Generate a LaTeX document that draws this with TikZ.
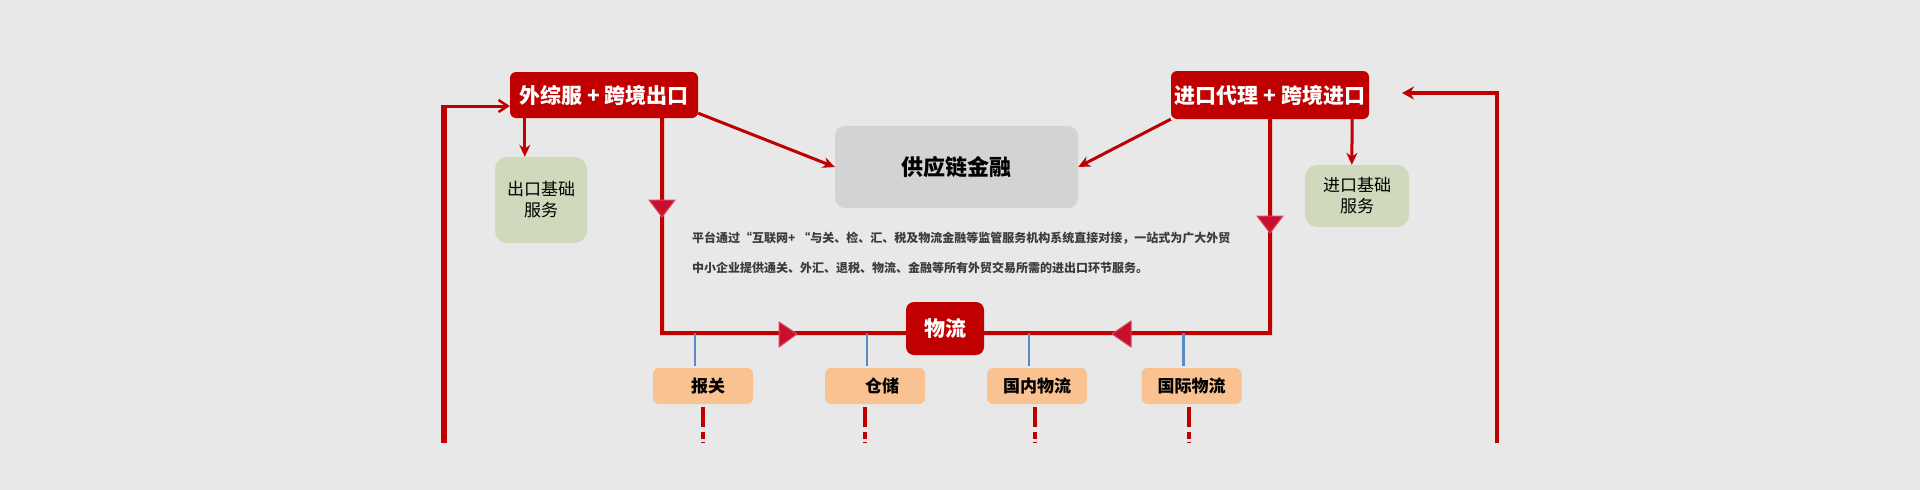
\documentclass[tikz,border=0pt]{standalone}
\usepackage{fontspec}
\setmainfont{Noto Sans CJK SC}
\usetikzlibrary{arrows.meta,calc}
\definecolor{bgc}{HTML}{E8E8E8}
\definecolor{myred}{HTML}{C00000}
\definecolor{trired}{HTML}{C8102E}
\definecolor{triedge}{HTML}{D9475C}
\definecolor{basegreen}{HTML}{D1D9BC}
\definecolor{peach}{HTML}{F9C290}
\definecolor{scfgrey}{HTML}{D3D3D3}
\definecolor{tickblue}{HTML}{5A8AC6}
\definecolor{bodytext}{HTML}{3C3C3C}
\pgfdeclarelayer{bglayer}
\pgfdeclarelayer{lines}
\pgfsetlayers{bglayer,lines,main}
\tikzset{
  redbox/.style={fill=myred, rounded corners=6pt, inner sep=0pt, text=white,
    font=\bfseries\fontsize{21}{24}\selectfont},
  basebox/.style={fill=basegreen, rounded corners=12pt, inner sep=0pt, align=center,
    font=\fontsize{17}{21}\selectfont},
  scfbox/.style={fill=scfgrey, rounded corners=10pt, inner sep=0pt,
    font=\bfseries\fontsize{22}{26}\selectfont},
  peachbox/.style={fill=peach, rounded corners=6pt, inner sep=0pt, minimum width=100pt,
    minimum height=36pt, font=\bfseries\fontsize{17}{20}\selectfont},
  bodyline/.style={anchor=west, inner sep=0pt, text=bodytext,
    font=\bfseries\fontsize{12}{14}\selectfont},
  thinarr/.style={draw=myred, line width=3pt, -{Stealth[length=12pt,width=11pt]}},
  flowline/.style={draw=myred, line width=4pt, line join=miter},
  outerline/.style={draw=myred, line width=6pt},
  barbarr/.style={draw=myred, line width=3pt, -{Straight Barb[length=9pt,width=12pt,line width=2.5pt]}},
  filledarr/.style={draw=myred, line width=4pt, -{Stealth[length=12pt,width=13pt]}},
  tickline/.style={draw=tickblue, line width=2.2pt},
  dashline/.style={draw=myred, line width=4pt, dash pattern=on 20pt off 5pt on 7pt off 3pt},
  marker/.style={fill=trired, draw=triedge, line width=1pt, line join=round},
}
\begin{document}
\begin{tikzpicture}[x=1pt,y=-1pt]
\begin{pgfonlayer}{bglayer}
\fill[bgc] (0,0) rectangle (1920,490);
\end{pgfonlayer}
\useasboundingbox (0,0) rectangle (1920,490);

% main nodes
\node[redbox, minimum width=188pt, minimum height=46pt] (exp) at (604,95) {外综服 + 跨境出口};
\node[redbox, minimum width=198pt, minimum height=48pt] (imp) at (1270,95) {进口代理 + 跨境进口};
\node[basebox, minimum width=92pt, minimum height=86pt] (expb) at (541,200) {出口基础\\服务};
\node[basebox, minimum width=104pt, minimum height=62pt] (impb) at (1357,196) {进口基础\\服务};
\node[scfbox, minimum width=243pt, minimum height=82pt] (scf) at (956.5,167) {供应链金融};
\node[redbox, rounded corners=8pt, minimum width=78pt, minimum height=53pt] (wl) at (945,328.5) {物流};

\node[peachbox] (bg) at (703,386) {\hspace*{10pt}报关};
\node[peachbox] (cc) at (875,386) {\hspace*{14pt}仓储};
\node[peachbox] (gn) at (1037,386) {国内物流};
\node[peachbox] (gj) at (1191.5,386) {国际物流};

\node[bodyline] (t1) at (692,238) {平台通过“互联网+ “与关、检、汇、税及物流金融等监管服务机构系统直接对接，一站式为广大外贸};
\node[bodyline] (t2) at (692,268) {中小企业提供通关、外汇、退税、物流、金融等所有外贸交易所需的进出口环节服务。};

% free coordinates
\coordinate (fl) at (662,333);
\coordinate (fr) at (1270,333);
\coordinate (olb) at (444,443);
\coordinate (olt) at (444,106);
\coordinate (orb) at (1497,443);
\coordinate (ort) at (1497,93);
\coordinate (ore) at (1402,93);

\begin{pgfonlayer}{lines}
% box to base service arrows
\draw[thinarr] ([xshift=15pt]exp.south west) -- ([xshift=30pt]expb.north west);
\draw[thinarr] ([xshift=-17pt]imp.south east) -- ([xshift=47pt]impb.north west);
% to supply chain finance
\draw[thinarr] ([yshift=5pt]exp.south east) -- (scf.west);
\draw[thinarr] (imp.south west) -- (scf.east);
% main logistics loop
\draw[flowline] ([xshift=-36pt]exp.south east) -- (fl) -- (fr) -- (fr |- imp.south);
% outer left
\draw[outerline] (olb) -- (olt);
\draw[barbarr] ([xshift=-3pt]olt) -- ([yshift=-11pt]exp.west);
% outer right
\draw[draw=myred, line width=4pt] (orb) -- ([yshift=-2pt]ort);
\draw[filledarr] ([xshift=2pt]ort) -- (ore);
% ticks
\foreach \n in {bg,cc,gn,gj}{
  \draw[tickline] ([xshift=-8pt,yshift=2pt]\n.north) -- ([xshift=-8pt]\n.north |- fl);
}
% dashed continuations
\draw[dashline] ([yshift=-3pt]bg.south) -- ++(0,36);
\draw[dashline] ([xshift=-10pt,yshift=-3pt]cc.south) -- ++(0,36);
\draw[dashline] ([xshift=-2pt,yshift=-3pt]gn.south) -- ++(0,36);
\draw[dashline] ([xshift=-2.5pt,yshift=-3pt]gj.south) -- ++(0,36);
\end{pgfonlayer}

% direction markers
\filldraw[marker] (649,200) -- (675,200) -- (662,217) -- cycle;
\filldraw[marker] (1257,216) -- (1283,216) -- (1270,233) -- cycle;
\filldraw[marker] (779,322) -- (779,347) -- (797,334) -- cycle;
\filldraw[marker] (1131,321) -- (1131,347) -- (1112,334) -- cycle;
\end{tikzpicture}
\end{document}
